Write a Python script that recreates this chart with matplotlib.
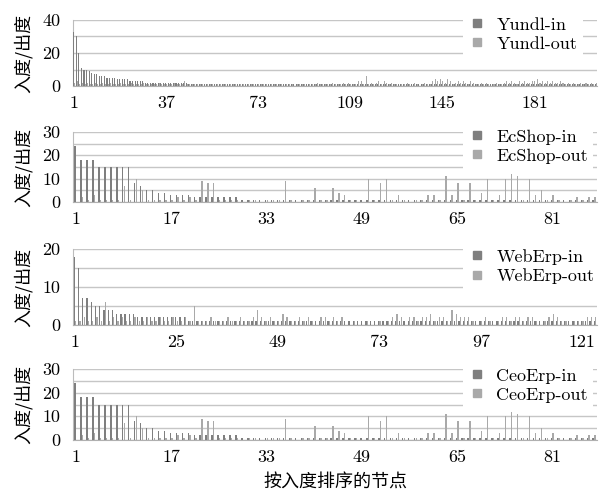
import numpy as np
import matplotlib
matplotlib.use("Agg")
import matplotlib.pyplot as plt
from matplotlib.lines import Line2D

# ---------------- data ----------------
yundl_in = [33, 30, 20, 11, 10, 10, 9, 8, 7, 7,
            6, 6, 6, 5, 5, 5, 5, 4, 4, 4,
            4, 4, 3, 3, 3, 3, 3, 3, 2, 2,
            2, 2, 2, 2, 2, 2, 2, 2, 2, 2,
            2, 2, 2, 2, 2, 1, 1, 1, 1, 1,
            1, 1, 1, 1, 1, 1, 1, 1, 1, 1,
            1, 1, 1, 1, 1, 1, 1, 1, 1, 1,
            1, 1, 1, 1, 1, 1, 1, 1, 1, 1,
            1, 1, 1, 1, 1, 1, 1, 1, 1, 1,
            1, 1, 1, 1, 1, 1, 1, 1, 1, 1,
            1, 1, 1, 1, 1, 1, 1, 1, 1, 1,
            1, 1, 1, 1, 1, 1, 1, 1, 1, 1,
            1, 1, 1, 1, 1, 1, 1, 1, 1, 1,
            1, 1, 1, 1, 1, 1, 1, 1, 1, 1,
            1, 1, 1, 1, 1, 1, 1, 1, 1, 1,
            1, 1, 1, 1, 1, 1, 1, 1, 1, 1,
            1, 1, 1, 1, 1, 1, 1, 1, 1, 1,
            1, 1, 1, 1, 1, 1, 1, 1, 1, 1,
            1, 1, 1, 1, 1, 1, 1, 1, 1, 1,
            1, 1, 1, 1, 1, 1, 1, 1, 1, 1,
            1, 1, 1, 1, 1]
yundl_out = [2, 3, 1, 2, 1, 2, 1, 1, 2, 1,
             1, 2, 1, 1, 2, 1, 1, 1, 2, 1,
             1, 1, 2, 1, 1, 1, 1, 2, 1, 1,
             1, 1, 1, 2, 1, 1, 1, 1, 1, 2,
             1, 1, 1, 3, 1, 1, 1, 1, 1, 1,
             1, 0, 1, 1, 1, 0, 1, 1, 1, 1,
             0, 1, 1, 1, 0, 1, 1, 0, 1, 1,
             1, 0, 1, 1, 1, 1, 0, 1, 1, 1,
             1, 1, 0, 1, 1, 1, 0, 1, 1, 1,
             1, 0, 1, 1, 1, 2, 1, 1, 1, 1,
             1, 2, 1, 1, 1, 2, 1, 2, 1, 1,
             1, 3, 3, 1, 6, 1, 2, 1, 2, 3,
             1, 3, 2, 1, 2, 1, 1, 0, 1, 1,
             2, 1, 0, 2, 1, 0, 1, 2, 1, 1,
             3, 4, 3, 4, 3, 2, 4, 3, 1, 2,
             3, 2, 3, 2, 1, 3, 2, 1, 1, 2,
             1, 2, 1, 0, 1, 2, 1, 1, 2, 3,
             2, 3, 2, 1, 3, 2, 3, 2, 2, 3,
             3, 4, 2, 3, 2, 3, 2, 3, 2, 2,
             3, 2, 1, 2, 1, 2, 1, 1, 2, 1,
             2, 1, 2, 1, 2]
yundl_ticks = ["1", "37", "73", "109", "145", "181"]

ecshop_in = [24, 18, 18, 18, 15, 15, 15, 15, 15, 15,
             8, 7, 5, 5, 4, 4, 3, 3, 3, 3,
             2, 2, 2, 2, 2, 2, 2, 2, 1, 1,
             1, 1, 1, 1, 1, 1, 1, 1, 1, 1,
             1, 1, 1, 1, 1, 1, 1, 1, 1, 1,
             1, 1, 1, 1, 1, 1, 1, 1, 1, 1,
             1, 1, 1, 1, 1, 1, 1, 1, 1, 1,
             1, 1, 1, 1, 1, 1, 1, 1, 1, 1,
             1, 1, 1, 1, 1, 1, 1, 1]
ecshop_out = [0, 2, 1, 3, 1, 1, 1, 1, 7, 1,
              10, 5, 1, 1, 1, 1, 1, 2, 1, 2,
              1, 9, 8, 8, 1, 1, 1, 1, 0, 1,
              1, 0, 1, 1, 1, 9, 1, 0, 1, 1,
              6, 1, 1, 6, 4, 3, 1, 1, 0, 10,
              1, 8, 10, 1, 3, 1, 0, 1, 1, 3,
              3, 1, 11, 3, 8, 1, 8, 1, 4, 10,
              1, 3, 10, 12, 11, 1, 10, 3, 5, 1,
              3, 1, 0, 1, 2, 1, 2, 2]
ecshop_ticks = ["1", "17", "33", "49", "65", "81"]

weberp_in = [18, 15, 7, 7, 6, 5, 5, 4, 4, 4,
             3, 3, 3, 3, 3, 2, 2, 2, 2, 2,
             2, 2, 2, 2, 2, 2, 2, 1, 1, 1,
             1, 1, 1, 1, 1, 1, 1, 1, 1, 1,
             1, 1, 1, 1, 1, 1, 1, 1, 1, 1,
             1, 1, 1, 1, 1, 1, 1, 1, 1, 1,
             1, 1, 1, 1, 1, 1, 1, 1, 1, 1,
             1, 1, 1, 1, 1, 1, 1, 1, 1, 1,
             1, 1, 1, 1, 1, 1, 1, 1, 1, 1,
             1, 1, 1, 1, 1, 1, 1, 1, 1, 1,
             1, 1, 1, 1, 1, 1, 1, 1, 1, 1,
             1, 1, 1, 1, 1, 1, 1, 1, 1, 1,
             1, 1, 1, 1]
weberp_out = [1, 1, 2, 1, 1, 2, 1, 6, 1, 2,
              1, 2, 1, 1, 2, 1, 1, 2, 1, 1,
              2, 1, 1, 2, 1, 1, 2, 1, 5, 1,
              1, 1, 2, 1, 1, 1, 2, 1, 1, 2,
              1, 1, 2, 4, 2, 1, 2, 1, 1, 3,
              2, 1, 1, 2, 1, 2, 1, 0, 2, 2,
              1, 2, 1, 2, 0, 0, 1, 0, 0, 1,
              0, 0, 1, 0, 1, 2, 3, 2, 0, 2,
              2, 1, 2, 2, 3, 1, 2, 2, 1, 4,
              3, 2, 2, 2, 1, 0, 1, 2, 1, 0,
              1, 2, 2, 1, 2, 2, 1, 2, 2, 1,
              0, 1, 2, 3, 2, 1, 1, 0, 1, 1,
              1, 2, 2, 2]
weberp_ticks = ["1", "25", "49", "73", "97", "121"]

ceoerp_in = [24, 18, 18, 18, 15, 15, 15, 15, 15, 15,
             8, 7, 5, 5, 4, 4, 3, 3, 3, 3,
             2, 2, 2, 2, 2, 2, 2, 2, 1, 1,
             1, 1, 1, 1, 1, 1, 1, 1, 1, 1,
             1, 1, 1, 1, 1, 1, 1, 1, 1, 1,
             1, 1, 1, 1, 1, 1, 1, 1, 1, 1,
             1, 1, 1, 1, 1, 1, 1, 1, 1, 1,
             1, 1, 1, 1, 1, 1, 1, 1, 1, 1,
             1, 1, 1, 1, 1, 1, 1, 1]
ceoerp_out = [0, 2, 1, 3, 1, 1, 1, 1, 7, 1,
              10, 5, 1, 1, 1, 1, 1, 2, 1, 2,
              1, 9, 8, 8, 1, 1, 1, 1, 0, 1,
              1, 0, 1, 1, 1, 9, 1, 0, 1, 1,
              6, 1, 1, 6, 4, 3, 1, 1, 0, 10,
              1, 8, 10, 1, 3, 1, 0, 1, 1, 3,
              3, 1, 11, 3, 8, 1, 8, 1, 4, 10,
              1, 3, 10, 12, 11, 1, 10, 3, 5, 1,
              3, 1, 0, 1, 2, 1, 2, 2]
ceoerp_ticks = ["1", "17", "33", "49", "65", "81"]

panels = [
    ("Yundl", yundl_in, yundl_out, yundl_ticks, 40, 20, 10),
    ("EcShop", ecshop_in, ecshop_out, ecshop_ticks, 30, 10, 5),
    ("WebErp", weberp_in, weberp_out, weberp_ticks, 20, 10, 5),
    ("CeoErp", ceoerp_in, ceoerp_out, ceoerp_ticks, 30, 10, 5),
]

# ---------------- layout ----------------
W, H = 606, 496
plt.rcParams['font.family'] = ['cmr10', 'DejaVu Serif']
plt.rcParams['axes.unicode_minus'] = False
CJK = ['Noto Sans CJK SC', 'DejaVu Sans']

fig = plt.figure(figsize=(W / 100, H / 100), dpi=100)
# (top_px, bottom_px, legend_anchor_px, bar width, offset)
geom = [(20, 86, 11.5, 0.40, 0.20),
        (132, 202, 123.5, 0.24, 0.14),
        (249, 325, 243.5, 0.30, 0.17),
        (369, 440, 362.5, 0.24, 0.14)]
left_px, right_px = 73, 597
c_in, c_out = '#7f7f7f', '#a9a9a9'
grid_c = '#c6c6c6'

for (name, vin, vout, tlabels, ymax, ymaj, ymin_step), (tp, bp, lg, bw, off) in zip(panels, geom):
    ax = fig.add_axes([left_px / W, 1 - bp / H, (right_px - left_px) / W, (bp - tp) / H])
    n = len(vin)
    x = np.arange(1, n + 1)
    ax.bar(x - off, vin, width=bw, color=c_in, linewidth=0, zorder=3)
    ax.bar(x + off, vout, width=bw, color=c_out, linewidth=0, zorder=3)
    ax.set_xlim(0.5, n + 0.5)
    ax.set_ylim(0, ymax)
    ax.set_xticks([int(t) for t in tlabels])
    ax.set_xticklabels(tlabels)
    ax.set_yticks(np.arange(0, ymax + 1, ymaj))
    ax.set_yticks(np.arange(0, ymax + 1, ymin_step), minor=True)
    ax.yaxis.grid(True, which='both', color=grid_c, linewidth=1.0, zorder=0)
    ax.set_axisbelow(True)
    ax.tick_params(axis='both', which='both', length=0, labelsize=13)
    ax.tick_params(axis='y', pad=9)
    ax.tick_params(axis='x', pad=7)
    for s in ['top', 'right']:
        ax.spines[s].set_visible(False)
    ax.spines['left'].set_color('#bcbcbc')
    ax.spines['bottom'].set_color('#b0b0b0')
    ax.set_ylabel('入度/出度', family=CJK, fontsize=13)
    ax.yaxis.set_label_coords((33 - left_px) / (right_px - left_px), 0.5)
    handles = [Line2D([], [], marker='s', linestyle='', color=c_in, markersize=6, label=name + '-in'),
               Line2D([], [], marker='s', linestyle='', color=c_out, markersize=6, label=name + '-out')]
    leg = ax.legend(handles=handles, loc='upper left',
                    bbox_to_anchor=(463 / W, 1 - lg / H), bbox_transform=fig.transFigure,
                    frameon=True, facecolor='white', edgecolor='none', framealpha=1,
                    fancybox=False, fontsize=13, handlelength=1.0, handletextpad=0.55,
                    labelspacing=0.2, borderpad=0.3, borderaxespad=0)
    leg.set_zorder(10)

fig.text((left_px + right_px) / 2 / W, 1 - 483 / H, '按入度排序的节点', family=CJK,
         fontsize=13, ha='center', va='center')

fig.savefig('out.png', dpi=100)
